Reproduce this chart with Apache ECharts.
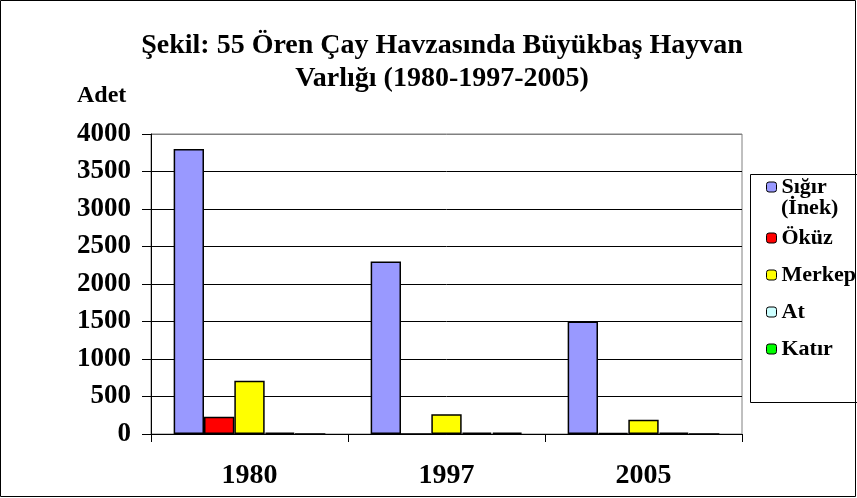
<!DOCTYPE html>
<html>
<head>
<meta charset="utf-8">
<script src="https://cdn.jsdelivr.net/npm/echarts@6/dist/echarts.min.js"></script>
<style>
  html, body { margin: 0; padding: 0; background: #fff; }
  #chart { width: 857px; height: 498px; }
</style>
</head>
<body>
<div id="chart"></div>
<script>
// Büyükbaş hayvan sayıları (adet), yıllara göre
const years = ['1980', '1997', '2005'];
const sigir  = [3800, 2300, 1500];
const okuz   = [230, 0, 15];
const merkep = [710, 265, 190];
const at     = [20, 20, 20];
const katir  = [0, 20, 0];
const yTicks = { min: 0, max: 4000, step: 500 };

const serif = 'Liberation Serif';
const colors = ['#9999FF', '#FF0000', '#FFFF00', '#CCFFFF', '#00FF00'];
const names = ['Sığır (İnek)', 'Öküz', 'Merkep', 'At', 'Katır'];
const values = [sigir, okuz, merkep, at, katir];

const chart = echarts.init(document.getElementById('chart'), null, { renderer: 'canvas' });

function legendText() {
  return { fontFamily: serif, fontWeight: 'bold', fontSize: 22, color: '#000' };
}

chart.setOption({
  backgroundColor: '#fff',
  animation: false,
  textStyle: { fontFamily: serif },
  title: {
    text: 'Şekil: 55 Ören Çay Havzasında Büyükbaş Hayvan\nVarlığı (1980-1997-2005)',
    left: 437,
    top: 24,
    textAlign: 'center',
    textStyle: { fontFamily: serif, fontWeight: 'bold', fontSize: 28, lineHeight: 33, color: '#000' }
  },
  legend: [
    {
      orient: 'vertical',
      left: 761,
      top: 171,
      itemWidth: 10,
      itemHeight: 10,
      data: [{ name: names[0], textStyle: legendText() }],
      formatter: () => 'Sığır',
      textStyle: legendText(),
      itemStyle: { borderColor: '#000', borderWidth: 1 },
      selectedMode: false
    },
    {
      orient: 'vertical',
      left: 761,
      top: 222,
      itemWidth: 10,
      itemHeight: 10,
      itemGap: 15,
      data: names.slice(1).map(n => ({ name: n, textStyle: legendText() })),
      textStyle: legendText(),
      itemStyle: { borderColor: '#000', borderWidth: 1 },
      selectedMode: false
    }
  ],
  graphic: [
    { type: 'rect', shape: { x: 0.5, y: 0.5, width: 855, height: 496 },
      style: { fill: 'none', stroke: '#000', lineWidth: 1 }, silent: true },
    { type: 'rect', shape: { x: 750.5, y: 174.5, width: 120, height: 228 },
      style: { fill: 'none', stroke: '#000', lineWidth: 1 }, silent: true, z: -1 },
    { type: 'text', left: 781, top: 197,
      style: { text: '(İnek)', font: 'bold 22px ' + serif, fill: '#000' } },
    { type: 'text', left: 77, top: 84,
      style: { text: 'Adet', font: 'bold 24px ' + serif, fill: '#000' } }
  ],
  grid: {
    left: 151, top: 134, right: 115, bottom: 64,
    show: true, borderColor: '#808080', borderWidth: 1, containLabel: false
  },
  xAxis: {
    type: 'category',
    data: years,
    axisLine: { lineStyle: { color: '#000', width: 1 } },
    axisTick: { show: true, length: 8, lineStyle: { color: '#000' } },
    axisLabel: { fontFamily: serif, fontWeight: 'bold', fontSize: 28, color: '#000', margin: 28 }
  },
  yAxis: {
    type: 'value',
    min: yTicks.min, max: yTicks.max, interval: yTicks.step,
    axisLine: { show: true, lineStyle: { color: '#000', width: 1 } },
    axisTick: { show: true, length: 9, lineStyle: { color: '#000' } },
    axisLabel: { fontFamily: serif, fontWeight: 'bold', fontSize: 27, color: '#000', margin: 20,
                 formatter: v => String(v) },
    splitLine: { show: true, lineStyle: { color: ['#000','#000','#000','#000','#000','#000','#000','#000','#808080'], width: 1 } }
  },
  series: names.map((n, i) => ({
    name: n,
    type: 'bar',
    data: values[i],
    barGap: '0%',
    barCategoryGap: '23%',
    itemStyle: { color: colors[i], borderColor: '#000', borderWidth: 1.5 }
  }))
});
</script>
</body>
</html>
